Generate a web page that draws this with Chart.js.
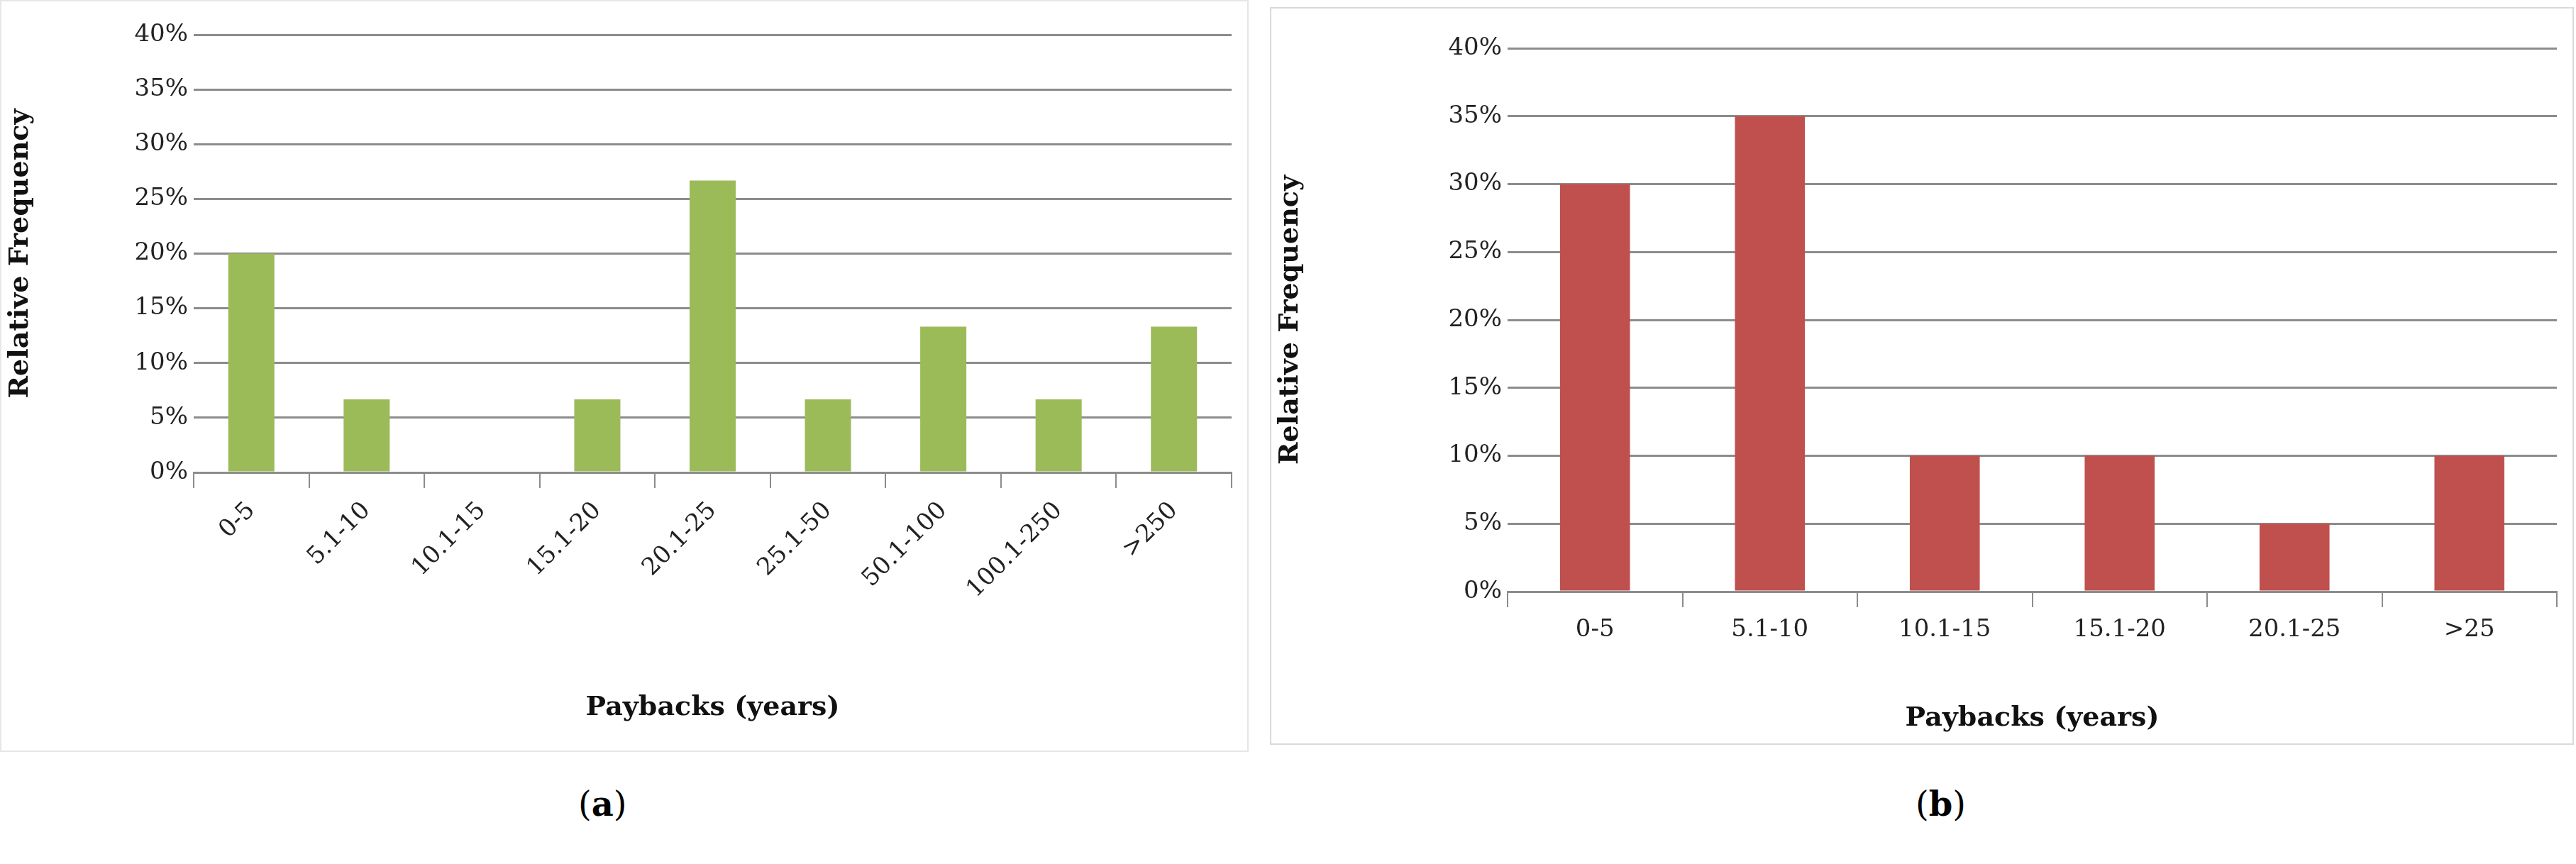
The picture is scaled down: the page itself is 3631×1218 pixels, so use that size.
<!DOCTYPE html>
<html><head><meta charset="utf-8">
<script src="https://cdn.jsdelivr.net/npm/chart.js@4/dist/chart.umd.min.js"></script>
<style>
body{margin:0;background:#fff;width:3631px;height:1218px;position:relative;overflow:hidden;font-family:"DejaVu Serif",serif}
.box{position:absolute}
.cap{position:absolute;font-size:48px;font-family:"DejaVu Serif",serif}
</style></head><body>
<div class="box" style="left:0;top:0;width:1760px;height:1060px;border:2px solid #e6e6e6;box-sizing:border-box"><canvas id="a"></canvas></div>
<div class="box" style="left:1790px;top:10px;width:1838px;height:1040px;border:2px solid #d9d9d9;box-sizing:border-box"><canvas id="b"></canvas></div>
<div class="cap" style="left:815px;top:1105px">(<b>a</b>)</div>
<div class="cap" style="left:2700px;top:1105px">(<b>b</b>)</div>
<script>
const catsA=["0-5","5.1-10","10.1-15","15.1-20","20.1-25","25.1-50","50.1-100","100.1-250",">250"];
const valsA=[20,6.67,0,6.67,26.67,6.67,13.33,6.67,13.33];
const catsB=["0-5","5.1-10","10.1-15","15.1-20","20.1-25",">25"];
const valsB=[30,35,10,10,5,10];
const yTitle="Relative Frequency", xTitle="Paybacks (years)";
const F="'DejaVu Serif', serif";
function mk(id,cats,vals,color,yW,xH,pad,rot){
  new Chart(document.getElementById(id),{type:'bar',
    data:{labels:cats,datasets:[{data:vals,backgroundColor:color,barPercentage:0.4,categoryPercentage:1}]},
    options:{responsive:true,maintainAspectRatio:false,animation:false,
      layout:{padding:pad},
      plugins:{legend:{display:false},tooltip:{enabled:false}},
      scales:{
        y:{min:0,max:40,ticks:{stepSize:5,callback:v=>v+'%',color:'#222',font:{family:F,size:34},padding:8},
           grid:{color:'#8c8c8c',lineWidth:3,drawTicks:false},border:{display:false},
           title:{display:true,text:yTitle,color:'#111',font:{family:F,size:38,weight:'bold'}},
           afterFit:s=>{s.width=yW}},
        x:{grid:{display:true,offset:true,drawOnChartArea:false,color:'#8c8c8c',lineWidth:2,tickLength:22},
           border:{color:'#8c8c8c',width:3},
           ticks:{color:'#222',font:{family:F,size:34},maxRotation:rot,minRotation:rot,padding:12},
           title:{display:true,text:xTitle,color:'#111',font:{family:F,size:38,weight:'bold'}},
           afterFit:s=>{s.height=xH}}
      }}});
}
mk('a',catsA,valsA,'#9bbb59',271,359,{top:47,right:22,bottom:33,left:0},45);
mk('b',catsB,valsB,'#c0504d',333,206,{top:56,right:22,bottom:8,left:0},0);
</script></body></html>
